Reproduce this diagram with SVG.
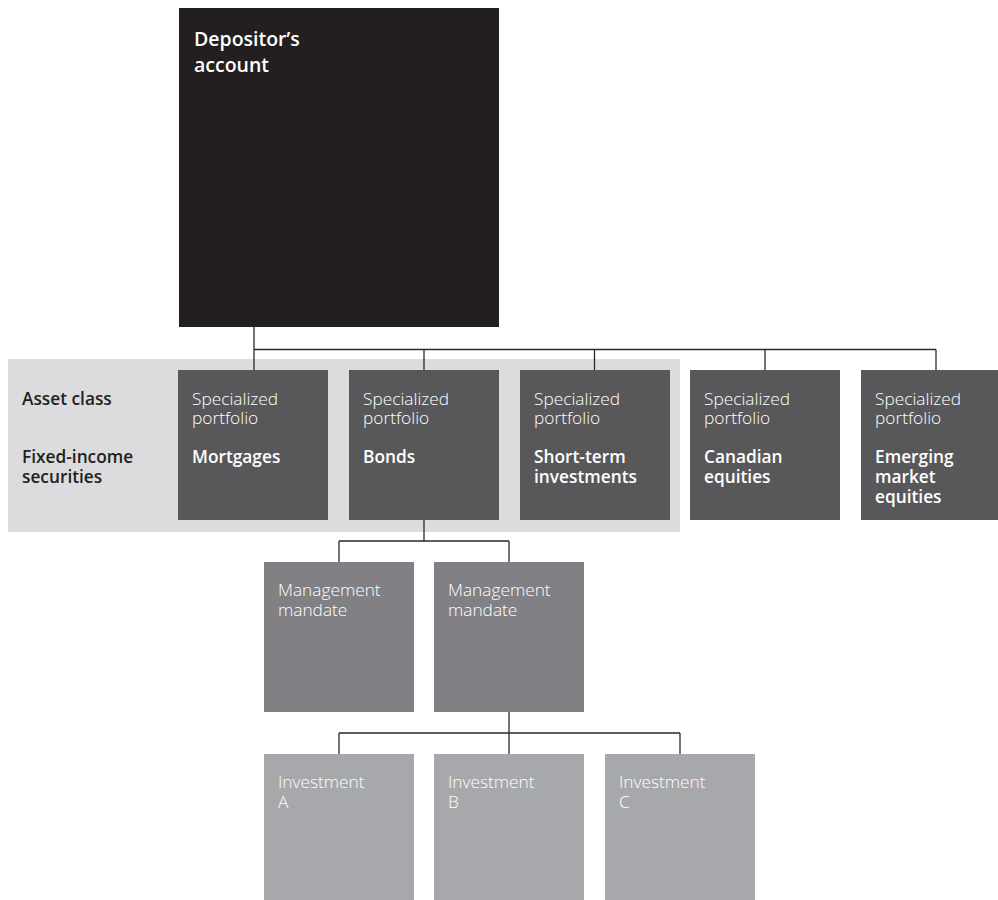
<svg xmlns="http://www.w3.org/2000/svg" width="998" height="900" viewBox="0 0 998 900">
<style>
.t{font-family:"Open Sans","Liberation Sans",sans-serif;}
.lt{font-weight:300;font-size:17.3px;fill:#ffffff;}
.bd{font-weight:600;font-size:17.3px;fill:#ffffff;}
.lbl{font-weight:600;font-size:17.3px;fill:#231f20;}
.top{font-weight:600;font-size:19.5px;fill:#ffffff;}
.port{fill:#58585a;}
.mand{fill:#818185;}
.inv{fill:#a7a8ab;}
.conn{fill:none;stroke:#2b2829;stroke-width:1.3;}
</style>
<rect x="0" y="0" width="998" height="900" fill="#ffffff"/>
<g id="band">
<rect x="8" y="359" width="672" height="173" fill="#dcdcde"/>
<text class="t lbl" x="22" y="405">Asset class</text>
<text class="t lbl" x="22" y="463">Fixed-income</text>
<text class="t lbl" x="22" y="483">securities</text>
</g>
<g id="connectors">
<path class="conn" d="M254 327V349.5M254 349.5H936M254 349.5V370M424 349.5V370M594.5 349.5V370M765 349.5V370M936 349.5V370"/>
<path class="conn" d="M424 520V541M339 541H509M339 541V562M509 541V562" stroke="#555"/>
<path class="conn" d="M509 712V733M339 733H680M339 733V754M509 733V754M680 733V754"/>
</g>
<g id="depositor">
<rect x="179" y="8" width="320" height="319" fill="#231f20"/>
<text class="t top" x="194" y="46">Depositor’s</text>
<text class="t top" x="194" y="72">account</text>
</g>
<g id="mortgages">
<rect class="port" x="178" y="370" width="150" height="150"/>
<text class="t lt" x="192" y="405">Specialized</text>
<text class="t lt" x="192" y="424">portfolio</text>
<text class="t bd" x="192" y="463">Mortgages</text>
</g>
<g id="bonds">
<rect class="port" x="349" y="370" width="150" height="150"/>
<text class="t lt" x="363" y="405">Specialized</text>
<text class="t lt" x="363" y="424">portfolio</text>
<text class="t bd" x="363" y="463">Bonds</text>
</g>
<g id="shortterm">
<rect class="port" x="520" y="370" width="150" height="150"/>
<text class="t lt" x="534" y="405">Specialized</text>
<text class="t lt" x="534" y="424">portfolio</text>
<text class="t bd" x="534" y="463">Short-term</text>
<text class="t bd" x="534" y="483">investments</text>
</g>
<g id="canadian">
<rect class="port" x="690" y="370" width="150" height="150"/>
<text class="t lt" x="704" y="405">Specialized</text>
<text class="t lt" x="704" y="424">portfolio</text>
<text class="t bd" x="704" y="463">Canadian</text>
<text class="t bd" x="704" y="483">equities</text>
</g>
<g id="emerging">
<rect class="port" x="861" y="370" width="150" height="150"/>
<text class="t lt" x="875" y="405">Specialized</text>
<text class="t lt" x="875" y="424">portfolio</text>
<text class="t bd" x="875" y="463">Emerging</text>
<text class="t bd" x="875" y="483">market</text>
<text class="t bd" x="875" y="503">equities</text>
</g>
<g id="mandate1">
<rect class="mand" x="264" y="562" width="150" height="150"/>
<text class="t lt" x="278" y="596">Management</text>
<text class="t lt" x="278" y="616">mandate</text>
</g>
<g id="mandate2">
<rect class="mand" x="434" y="562" width="150" height="150"/>
<text class="t lt" x="448" y="596">Management</text>
<text class="t lt" x="448" y="616">mandate</text>
</g>
<g id="investmentA">
<rect class="inv" x="264" y="754" width="150" height="150"/>
<text class="t lt" x="278" y="788">Investment</text>
<text class="t lt" x="278" y="808">A</text>
</g>
<g id="investmentB">
<rect class="inv" x="434" y="754" width="150" height="150"/>
<text class="t lt" x="448" y="788">Investment</text>
<text class="t lt" x="448" y="808">B</text>
</g>
<g id="investmentC">
<rect class="inv" x="605" y="754" width="150" height="150"/>
<text class="t lt" x="619" y="788">Investment</text>
<text class="t lt" x="619" y="808">C</text>
</g>
</svg>
